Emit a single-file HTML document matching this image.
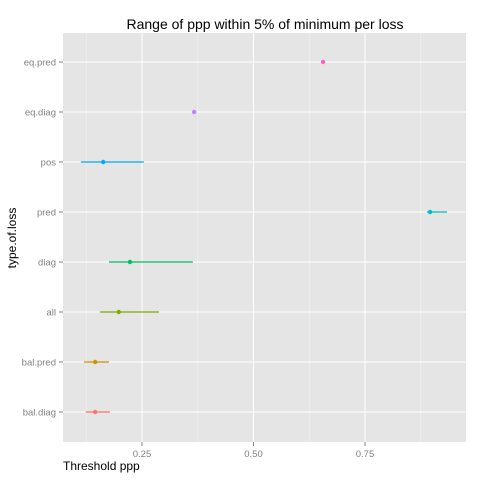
<!DOCTYPE html>
<html><head><meta charset="utf-8"><style>body{margin:0;background:#fff}svg{display:block;font-family:"Liberation Sans",sans-serif}</style></head>
<body>
<svg id="chart" width="480" height="480" xmlns="http://www.w3.org/2000/svg">
<rect x="0" y="0" width="480" height="480" fill="#fff"/>
<text x="265" y="29" text-anchor="middle" font-size="14" fill="#000">Range of ppp within 5% of minimum per loss</text>
<rect x="63" y="33" width="403" height="409" fill="#e5e5e5"/>
<g id="grid"></g><g id="marks"></g><g id="axes"></g>
<text x="63" y="470" font-size="12" fill="#000">Threshold ppp</text>
<text transform="translate(16,238) rotate(-90)" text-anchor="middle" font-size="12" fill="#000">type.of.loss</text>
</svg>
<script>
const categories = ["bal.diag","bal.pred","all","diag","pred","pos","eq.diag","eq.pred"];
const lows = [0.124,0.120,0.156,0.176,0.889,0.113,0.367,0.656];
const points = [0.145,0.145,0.198,0.223,0.896,0.163,0.367,0.656];
const highs = [0.178,0.176,0.288,0.364,0.934,0.254,0.367,0.656];
const xTicks = [0.25,0.5,0.75];
const xTickLabels = ["0.25","0.50","0.75"];
const xMinor = [0.125,0.375,0.625,0.875];
const colors = ["#F8766D","#CD9600","#7CAE00","#00BE67","#00BFC4","#00A9FF","#C77CFF","#FF61CC"];
const NS="http://www.w3.org/2000/svg";
function x(v){return 142+(v-0.25)*446;}
function y(i){return 412-i*50;}
function mk(tag,attrs,parent){const e=document.createElementNS(NS,tag);for(const k in attrs)e.setAttribute(k,attrs[k]);parent.appendChild(e);return e;}
const grid=document.getElementById('grid'),marks=document.getElementById('marks'),axes=document.getElementById('axes');
xMinor.forEach(v=>{const l=mk('line',{x1:x(v),x2:x(v),y1:33,y2:442,stroke:'#f2f2f2','stroke-width':0.6},grid);

});
xTicks.forEach((v,i)=>{const l=mk('line',{x1:x(v),x2:x(v),y1:33,y2:442,stroke:'#fff','stroke-width':1},grid);


const t=mk('line',{x1:x(v),x2:x(v),y1:442,y2:446,stroke:'#7f7f7f'},axes);


const tx=mk('text',{x:x(v),y:457,'text-anchor':'middle','font-size':9.5,fill:'#7f7f7f'},axes);tx.textContent=xTickLabels[i];

});
categories.forEach((c,i)=>{const l=mk('line',{x1:63,x2:466,y1:y(i),y2:y(i),stroke:'#fff','stroke-width':1},grid);


const t=mk('line',{x1:59,x2:63,y1:y(i),y2:y(i),stroke:'#7f7f7f'},axes);


const tx=mk('text',{x:56,y:y(i)+3.5,'text-anchor':'end','font-size':9.5,fill:'#7f7f7f'},axes);tx.textContent=c;


const r=mk('line',{x1:x(lows[i]),x2:x(highs[i]),y1:y(i),y2:y(i),stroke:colors[i],'stroke-width':1.2},marks);


const p=mk('circle',{cx:x(points[i]),cy:y(i),r:2.2,fill:colors[i]},marks);

});
</script>
</body></html>
